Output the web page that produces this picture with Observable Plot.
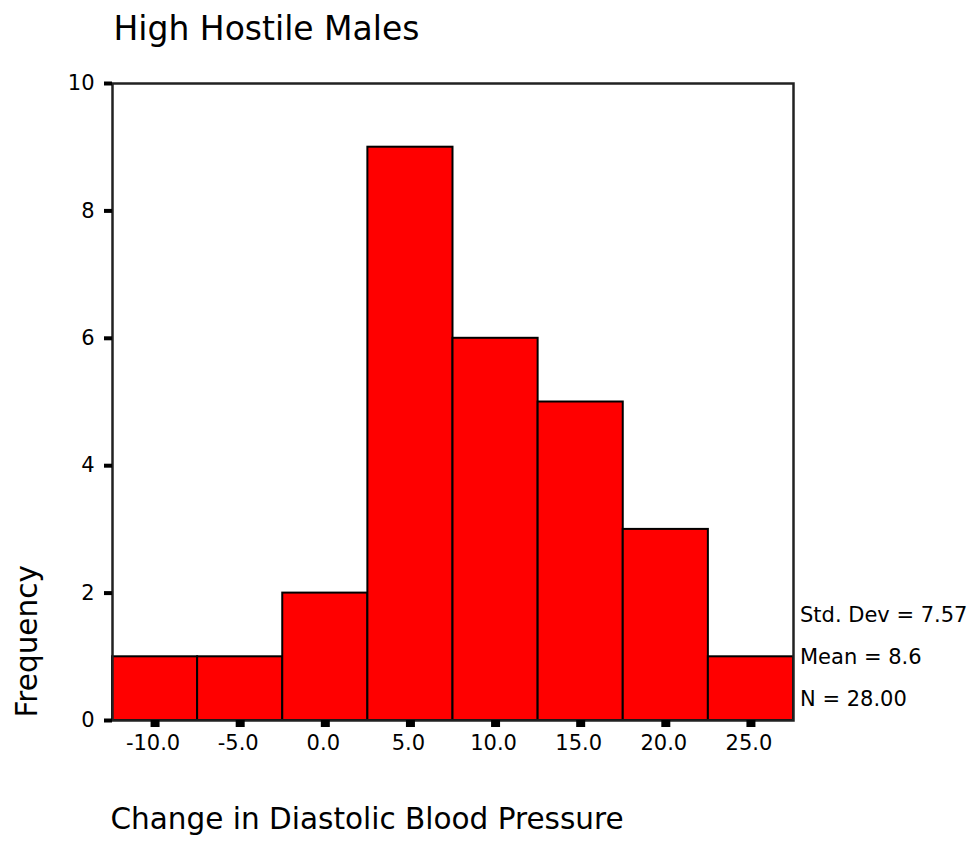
<!DOCTYPE html>
<html>
<head>
<meta charset="utf-8">
<script src="https://cdn.jsdelivr.net/npm/d3@7"></script>
<script src="https://cdn.jsdelivr.net/npm/@observablehq/plot@0.6"></script>
<style>
  html, body { margin: 0; padding: 0; background: #fff; }
  #chart svg { display: block; }
</style>
</head>
<body>
<div id="chart"></div>
<script>
// ---- data ----
const binCenters = [-10, -5, 0, 5, 10, 15, 20, 25];
const counts     = [1, 1, 2, 9, 6, 5, 3, 1];
const binWidth   = 5;
const xTicks     = [-10, -5, 0, 5, 10, 15, 20, 25];
const yTicks     = [0, 2, 4, 6, 8, 10];
const titleText  = ["High Hostile Males"];
const xLabel     = ["Change in Diastolic Blood Pressure"];
const yLabel     = ["Frequency"];
const statLines  = ["Std. Dev = 7.57", "Mean = 8.6", "N = 28.00"];

const bins = binCenters.map((c, i) => ({x1: c - binWidth / 2, x2: c + binWidth / 2, count: counts[i]}));

const chart = Plot.plot({
  width: 973,
  height: 841,
  marginLeft: 112,
  marginRight: 180,
  marginTop: 83,
  marginBottom: 121,
  style: {fontFamily: "'DejaVu Sans', sans-serif", color: "#000", background: "#fff"},
  x: {domain: [-12.5, 27.5]},
  y: {domain: [0, 10]},
  marks: [
    Plot.rectY(bins, {x1: "x1", x2: "x2", y: "count", fill: "#ff0000", stroke: "#000", strokeWidth: 2}),
    Plot.frame({stroke: "#222", strokeWidth: 2.5}),
    Plot.axisY(yTicks, {tickSize: 8, strokeWidth: 4, tickPadding: 10, fontSize: 21, label: null, stroke: "#000",
      tickFormat: d => String(d)}),
    // tick marks only
    Plot.axisX(xTicks, {tickSize: 7, strokeWidth: 9, stroke: "#000", label: null, tickFormat: () => ""}),
    // tick labels only
    Plot.axisX(xTicks, {tickSize: 0, tickPadding: 15, fontSize: 21, label: null, fill: "#000",
      tickFormat: d => d.toFixed(1), dx: -2}),
    Plot.text(titleText, {frameAnchor: "top-left", textAnchor: "start", lineAnchor: "bottom",
      dx: 1, dy: -43.5, fontSize: 33, fill: "#000"}),
    Plot.text(xLabel, {frameAnchor: "bottom-left", textAnchor: "start", lineAnchor: "bottom",
      dx: -2, dy: 108, fontSize: 29.5, fill: "#000"}),
    Plot.text(yLabel, {frameAnchor: "bottom-left", textAnchor: "start", lineAnchor: "bottom",
      rotate: -90, dx: -76, dy: -3, fontSize: 29.5, fill: "#000"}),
    Plot.text([statLines.join("\n")], {frameAnchor: "bottom-right", textAnchor: "start", lineAnchor: "bottom",
      lineHeight: 2, dx: 6.5, dy: -15, fontSize: 21, fill: "#000"})
  ]
});
document.getElementById("chart").append(chart);
</script>
</body>
</html>
